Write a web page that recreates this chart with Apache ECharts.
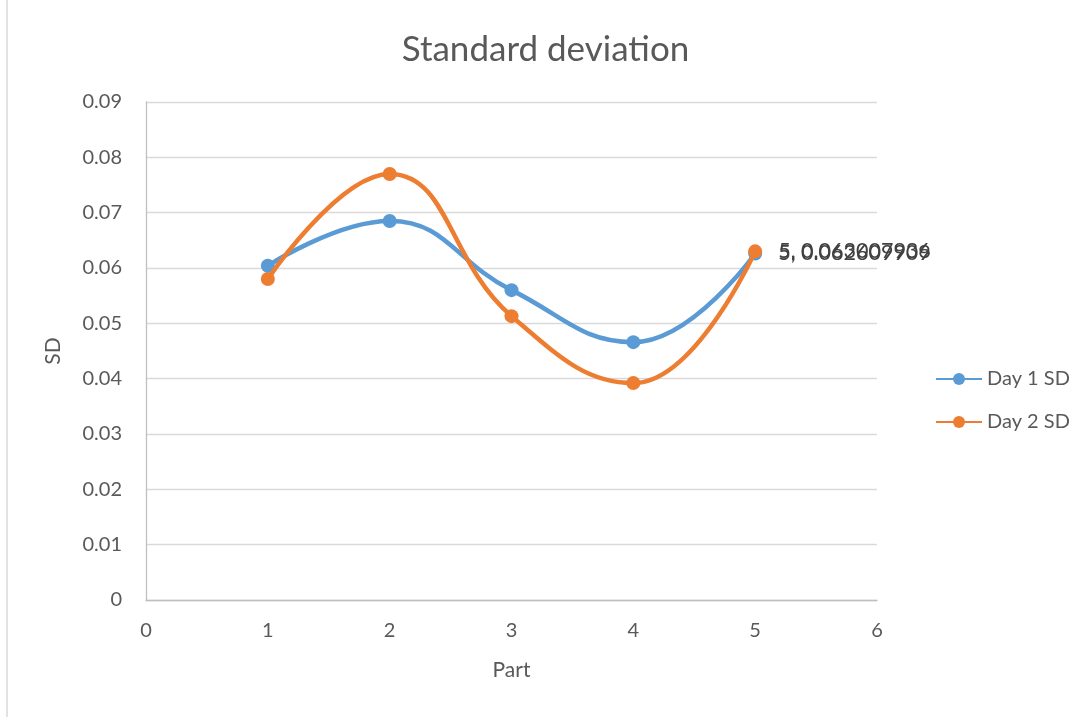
<!DOCTYPE html>
<html><head><meta charset="utf-8">
<script src="https://cdn.jsdelivr.net/npm/echarts@6/dist/echarts.min.js"></script>
<style>html,body{margin:0;padding:0;background:#fff}#c{width:1091px;height:717px}</style>
</head><body><div id="c"></div>
<script>
const parts = [1, 2, 3, 4, 5];
const day1 = [0.0604, 0.0685, 0.0560, 0.0466, 0.062609909];
const day2 = [0.0580, 0.0770, 0.0513, 0.0392, 0.063007936];
const seriesNames = ['Day 1 SD', 'Day 2 SD'];
const colors = ['#5b9bd5', '#ed7d31'];
const FONT = 'Lato, "Open Sans", sans-serif';

function mk(name, vals, color, idx) {
  return {
    name: name, type: 'line', smooth: 0.45,
    data: parts.map((p, i) => [p, vals[i]]),
    symbol: 'circle', symbolSize: 14,
    lineStyle: { width: 4.5, color: color },
    itemStyle: { color: color },
    z: 3 + idx,
    label: {
      show: true, position: 'right', distance: 16,
      fontFamily: FONT, fontSize: 21.5, color: '#404040',
      formatter: p => (p.dataIndex === parts.length - 1 ? p.value[0] + ', ' + p.value[1] : '')
    }
  };
}

const chart = echarts.init(document.getElementById('c'));
chart.setOption({
  animation: false,
  title: { text: 'Standard deviation', left: 'center', top: 27,
    textStyle: { fontFamily: FONT, fontSize: 35, fontWeight: 'normal', color: '#595959' } },
  grid: { left: 146, right: 214, top: 102, bottom: 117 },
  legend: { orient: 'vertical', left: 930, top: 364, itemGap: 23, itemWidth: 46, itemHeight: 15,
    textStyle: { fontFamily: FONT, fontSize: 20, color: '#595959' }, data: seriesNames },
  xAxis: { type: 'value', min: 0, max: 6, interval: 1, name: 'Part', nameLocation: 'middle', nameGap: 60,
    nameTextStyle: { fontFamily: FONT, fontSize: 21, color: '#595959' },
    axisLine: { lineStyle: { color: '#bfbfbf', width: 1.3 } }, axisTick: { show: false },
    axisLabel: { fontFamily: FONT, fontSize: 20, color: '#595959', margin: 21 },
    splitLine: { show: false } },
  yAxis: { type: 'value', min: 0, max: 0.09, interval: 0.01, name: 'SD', nameLocation: 'middle', nameGap: 82,
    nameTextStyle: { fontFamily: FONT, fontSize: 21, color: '#595959' },
    axisLine: { show: true, lineStyle: { color: '#bfbfbf', width: 1.3 } }, axisTick: { show: false },
    axisLabel: { fontFamily: FONT, fontSize: 20, color: '#595959', margin: 24,
      formatter: v => (v === 0 ? '0' : v.toFixed(2)) },
    splitLine: { lineStyle: { color: '#d9d9d9', width: 1.3 } } },
  graphic: [{ type: 'line', shape: { x1: 7, y1: 0, x2: 7, y2: 717 }, style: { stroke: '#d9d9d9', lineWidth: 1.5 } }],
  series: [mk(seriesNames[0], day1, colors[0], 0), mk(seriesNames[1], day2, colors[1], 1)]
});
</script></body></html>
